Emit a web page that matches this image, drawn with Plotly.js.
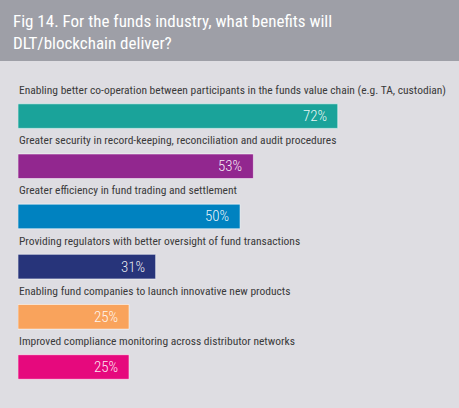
<!DOCTYPE html>
<html>
<head>
<meta charset="utf-8">
<script src="https://cdn.plot.ly/plotly-3.0.1.min.js"></script>
<style>
  html, body { margin: 0; padding: 0; background: #dedde2; }
  #chart { width: 459px; height: 408px; }
</style>
</head>
<body>
<div id="chart"></div>
<script>
// Survey answers: share of respondents naming each benefit
const benefits = [
  "Enabling better co-operation between participants in the funds value chain (e.g. TA, custodian)",
  "Greater security in record-keeping, reconciliation and audit procedures",
  "Greater efficiency in fund trading and settlement",
  "Providing regulators with better oversight of fund transactions",
  "Enabling fund companies to launch innovative new products",
  "Improved compliance monitoring across distributor networks"
];
const shares = [72, 53, 50, 31, 25, 25];
const barColors = ["#1aa39a", "#92278f", "#0082c0", "#27347a", "#f9a35c", "#e6097d"];
const chartTitle = "Fig 14. For the funds industry, what benefits will<br>DLT/blockchain deliver?";

const FONT = '"Roboto Condensed", "DejaVu Sans Condensed", sans-serif';

// plot area geometry (px)
const M = { l: 18, r: 0, t: 91, b: 6 };
const plotH = 408 - M.t - M.b;
const plotW = 459 - M.l - M.r;

const trace = {
  type: "bar",
  orientation: "h",
  y: benefits,
  x: shares,
  width: 0.49,
  marker: { color: barColors, line: { color: "rgba(255,255,255,0.55)", width: 1 } },
  hoverinfo: "skip"
};

const annotations = [];
benefits.forEach((b, i) => {
  // category caption above each bar
  annotations.push({
    xref: "x", yref: "y", x: 0, y: b,
    xanchor: "left", yanchor: "middle", yshift: 26, xshift: -1,
    text: b, showarrow: false,
    font: { family: FONT, size: 11.5, color: "#3a3a3a" }
  });
  // value label inside the bar end
  annotations.push({
    xref: "x", yref: "y", x: shares[i], y: b,
    xanchor: "right", yanchor: "middle", xshift: -9, yshift: 0,
    text: shares[i] + "%", showarrow: false,
    font: { family: FONT, size: 15, weight: 300, color: "rgba(255,255,255,0.92)" }
  });
});

// header title in the grey band
annotations.push({
  xref: "paper", yref: "paper",
  x: (11 - M.l) / plotW, xanchor: "left",
  y: 1 + (M.t - 32) / plotH, yanchor: "middle",
  align: "left", showarrow: false,
  text: chartTitle,
  font: { family: FONT, size: 17, color: "#ffffff" }
});

const layout = {
  width: 459, height: 408,
  paper_bgcolor: "#dedde2",
  plot_bgcolor: "rgba(0,0,0,0)",
  margin: { l: M.l, r: M.r, t: M.t, b: M.b, pad: 0 },
  showlegend: false,
  bargap: 0,
  xaxis: { range: [0, 99.3], visible: false, fixedrange: true },
  yaxis: { type: "category", autorange: "reversed", visible: false, fixedrange: true },
  shapes: [{
    type: "rect", xref: "paper", yref: "paper", layer: "below",
    x0: -0.1, x1: 1.1, y0: 1 + (M.t - 61) / plotH, y1: 1.5,
    fillcolor: "#9e9fa7", line: { width: 0 }
  }],
  annotations: annotations
};

Plotly.newPlot("chart", [trace], layout, { displayModeBar: false, staticPlot: true });
</script>
</body>
</html>
